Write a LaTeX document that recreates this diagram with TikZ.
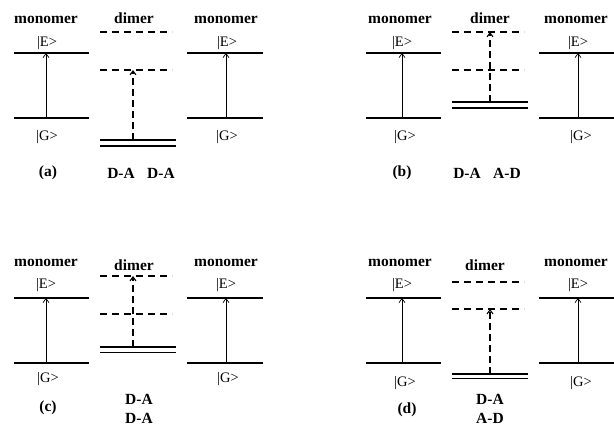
\documentclass[tikz,border=0pt]{standalone}
\usepackage{fontspec}
\setmainfont{Liberation Serif}[BoldFont={Liberation Serif Bold}]
\usetikzlibrary{arrows.meta, positioning}

\begin{document}
\begin{tikzpicture}[
        x=1pt, y=-1pt,
        level/.style={line width=2pt},
        lowlevel/.style={line width=1.5pt},
        virtual/.style={line width=1.3pt, dash pattern=on 7pt off 5pt},
        absorb/.style={-{Straight Barb[length=4pt,width=6pt]}, line width=0.7pt},
        dabsorb/.style={absorb, line width=1.1pt, dash pattern=on 7pt off 4pt},
        title/.style={font=\bfseries\fontsize{15.5}{17}\selectfont, inner sep=0pt},
        ket/.style={font=\fontsize{14.5}{16}\selectfont, inner sep=0pt}
    ]
    \useasboundingbox (0,0) rectangle (614,426);

    % Panel (a)
    \begin{scope}[shift={(0,0)}]
        % Monomer levels left and right
        \foreach \m/\xa/\xb/\ax in {l/14/89/46, r/187/263/226} {
            \node[title] (a\m mono) at (\ax,20) {monomer};
            \node[ket] (a\m ket) at (\ax+1,43) {|E>};
            \coordinate (a\m E) at (\ax,53);
            \coordinate (a\m G) at (\ax,118);
            \draw[level] (\xa,53) -- (\xb,53);
            \draw[lowlevel] (\xa,118) -- (\xb,118);
            \draw[absorb] (a\m G) -- (a\m E);
            \node[ket] (a\m gket) at (\ax+1,137) {|G>};
        }
        % Dimer: transition to lower state
        \node[title] (adim) at (134,18) {dimer};
        \draw[virtual] (100,32) -- (172,32);
        \draw[virtual] (100,70) -- (172,70);
        \draw[level] (100,140) -- (176,140);
        \draw[lowlevel] (100,146) -- (176,146);
        \coordinate (adG) at (133,140);
        \coordinate (adX) at (133,70);
        \draw[dabsorb] (adG) -- (adX);
        \node[title] (alab) at (48,173) {(a)};
        \node[title] (apair) at (141,173) {D-A\hspace{0.8em}D-A};
    \end{scope}

    % Panel (b)
    \begin{scope}[shift={(352,0)}]
        % Monomer levels left and right
        \foreach \m/\xa/\xb/\ax in {l/14/89/50, r/187/263/226} {
            \node[title] (b\m mono) at (\ax-2,20) {monomer};
            \node[ket] (b\m ket) at (\ax,43) {|E>};
            \coordinate (b\m E) at (\ax,53);
            \coordinate (b\m G) at (\ax,118);
            \draw[level] (\xa,53) -- (\xb,53);
            \draw[lowlevel] (\xa,118) -- (\xb,118);
            \draw[absorb] (b\m G) -- (b\m E);
            \node[ket] (b\m gket) at (\ax+3,137) {|G>};
        }
        % Dimer: transition to upper state
        \node[title] (bdim) at (138,18) {dimer};
        \draw[virtual] (100,32) -- (172,32);
        \draw[virtual] (100,70) -- (172,70);
        \draw[level] (100,102) -- (176,102);
        \draw[lowlevel] (100,108) -- (176,108);
        \coordinate (bdG) at (138,102);
        \coordinate (bdX) at (138,32);
        \draw[dabsorb] (bdG) -- (bdX);
        \node[title] (blab) at (50,173) {(b)};
        \node[title] (bpair) at (135,173) {D-A\hspace{0.8em}A-D};
    \end{scope}

    % Panel (c)
    \begin{scope}[shift={(0,244)}]
        % Monomer levels left and right
        \foreach \m/\xa/\xb/\ax in {l/14/89/46, r/187/263/226} {
            \node[title] (c\m mono) at (\ax,19) {monomer};
            \node[ket] (c\m ket) at (\ax,41) {|E>};
            \coordinate (c\m E) at (\ax,54);
            \coordinate (c\m G) at (\ax,119);
            \draw[level] (\xa,54) -- (\xb,54);
            \draw[lowlevel] (\xa,119) -- (\xb,119);
            \draw[absorb] (c\m G) -- (c\m E);
            \node[ket] (c\m gket) at (\ax+2,135) {|G>};
        }
        % Dimer: transition to upper state
        \node[title] (cdim) at (134,21) {dimer};
        \draw[virtual] (100,32) -- (172,32);
        \draw[virtual] (100,70) -- (172,70);
        \draw[level] (100,103) -- (176,103);
        \draw[lowlevel] (100,108.5) -- (176,108.5);
        \coordinate (cdG) at (133,103);
        \coordinate (cdX) at (133,32);
        \draw[dabsorb] (cdG) -- (cdX);
        \node[title] (clab) at (48,164) {(c)};
        \node[title] (cpair1) at (139,155) {D-A};
        \node[title] (cpair2) at (139,174) {D-A};
    \end{scope}

    % Panel (d)
    \begin{scope}[shift={(352,244)}]
        % Monomer levels left and right
        \foreach \m/\xa/\xb/\ax in {l/14/89/50, r/187/263/226} {
            \node[title] (d\m mono) at (\ax-2,19) {monomer};
            \node[ket] (d\m ket) at (\ax,41) {|E>};
            \coordinate (d\m E) at (\ax,54);
            \coordinate (d\m G) at (\ax,119);
            \draw[level] (\xa,54) -- (\xb,54);
            \draw[lowlevel] (\xa,119) -- (\xb,119);
            \draw[absorb] (d\m G) -- (d\m E);
            \node[ket] (d\m gket) at (\ax+3,139) {|G>};
        }
        % Dimer: transition to lower state
        \node[title] (ddim) at (133,21) {dimer};
        \draw[virtual] (100,38) -- (172,38);
        \draw[virtual] (100,65) -- (172,65);
        \draw[level] (100,130) -- (176,130);
        \draw[lowlevel] (100,134.5) -- (176,134.5);
        \coordinate (ddG) at (138,130);
        \coordinate (ddX) at (138,65);
        \draw[dabsorb] (ddG) -- (ddX);
        \node[title] (dlab) at (55,166) {(d)};
        \node[title] (dpair1) at (138,155) {D-A};
        \node[title] (dpair2) at (138,174) {A-D};
    \end{scope}
\end{tikzpicture}
\end{document}
